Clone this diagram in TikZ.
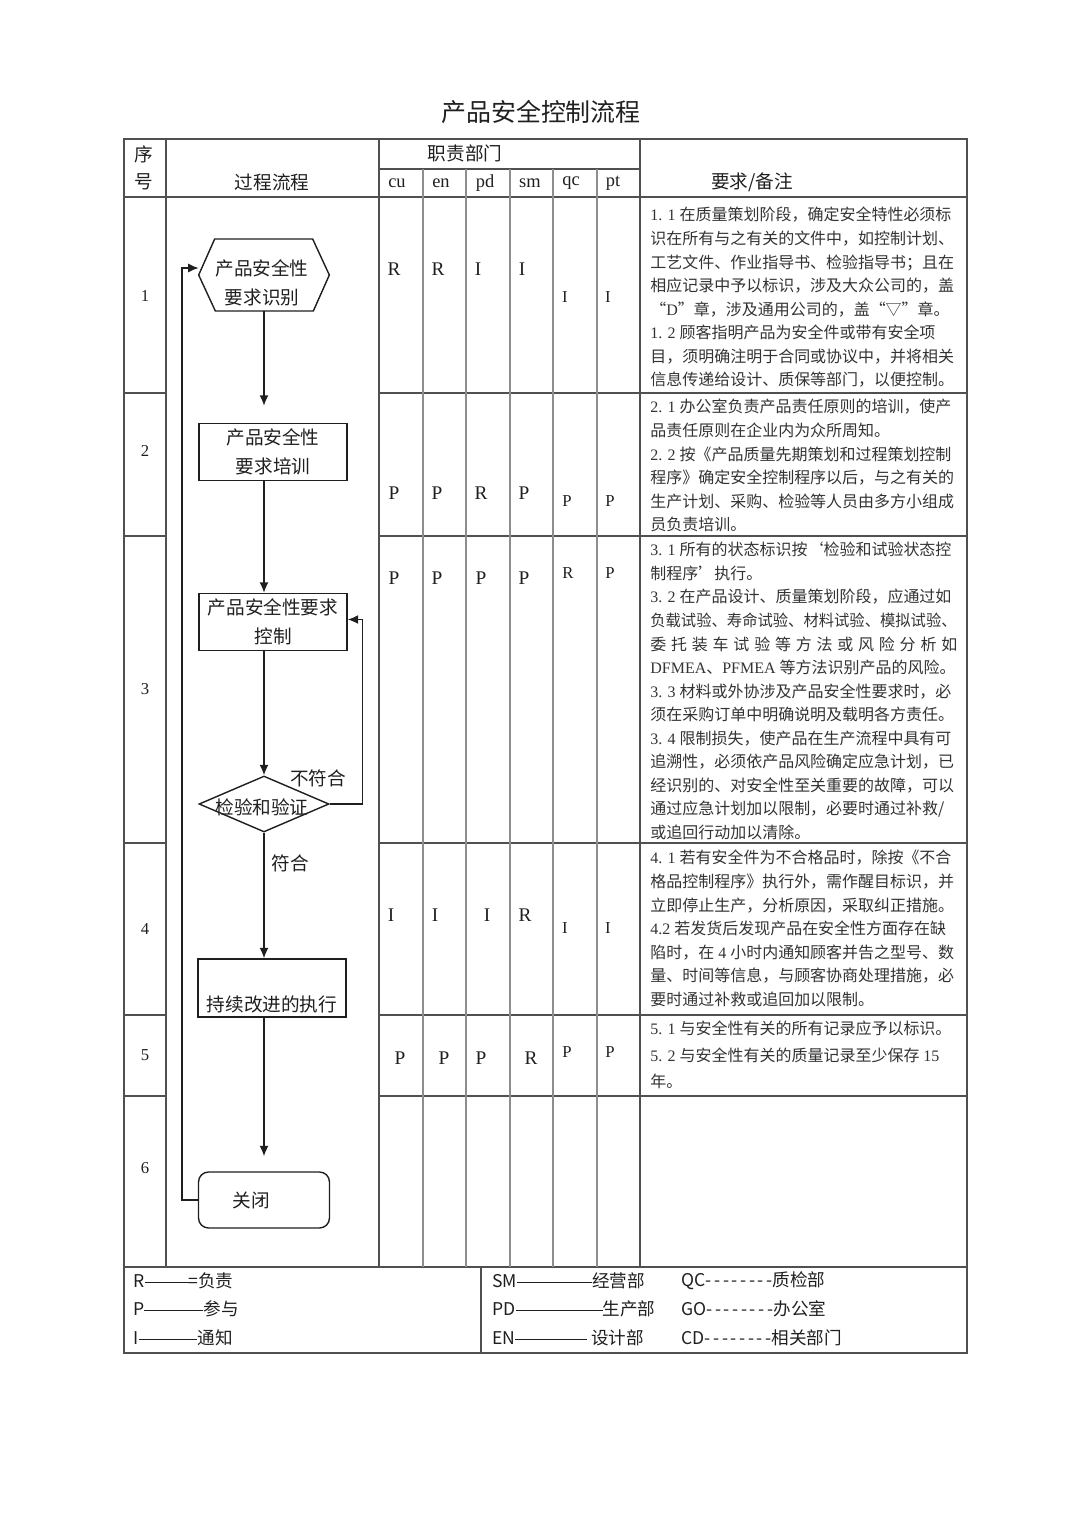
\documentclass[tikz,border=0pt]{standalone}
\usepackage{fontspec}
\usepackage{graphicx}
\setmainfont{Noto Sans CJK SC}
\newfontfamily\lat{Liberation Serif}
\usetikzlibrary{arrows.meta,positioning,shapes.geometric}
\definecolor{Trazo}{HTML}{505050}
\definecolor{TrazoClaro}{HTML}{8E8E8E}
\definecolor{Tinta}{HTML}{1F1F1F}
\definecolor{TintaGris}{HTML}{333333}
\newcommand{\fsz}[2]{\fontsize{#1}{#2}\selectfont}
\newcommand{\raya}[1]{\rule[0.3em]{#1}{0.05em}}
\newcommand{\guiones}{\makebox[1.34cm][s]{-\hfill-\hfill-\hfill-\hfill-\hfill-\hfill-\hfill-}}

\begin{document}
\begin{tikzpicture}[
  x=0.02cm,y=-0.02cm,
  >=Latex,
  every node/.style={inner sep=0pt,text=Tinta},
  rejilla/.style={draw=Trazo,line width=0.6pt},
  subrejilla/.style={draw=TrazoClaro,line width=0.6pt},
  cab/.style={font=\fsz{10.6}{13}},
  dpto/.style={font=\lat\fsz{10.5}{12}},
  letra/.style={font=\lat\fsz{11}{13}},
  letrita/.style={font=\lat\fsz{9.5}{11}},
  nota/.style={anchor=north west,align=left,text=TintaGris,font=\fsz{9.1}{13.4}},
  paso/.style={draw=Tinta,line width=0.8pt,minimum width=2.96cm,minimum height=1.14cm,align=center,font=\fsz{10.6}{16.5}},
  caja/.style={minimum width=2.6cm,minimum height=1.44cm},
  rombo/.style={diamond,draw=Tinta,line width=0.8pt,minimum width=2.6cm,minimum height=1.12cm},
  fin/.style={paso,rounded corners=0.2cm,minimum width=2.62cm,minimum height=1.12cm},
  flow/.style={-{Latex[length=2.1mm,width=1.8mm]},line width=0.8pt,draw=Tinta},
  etiq/.style={align=center,font=\fsz{10.6}{16.5}},
  leyenda/.style={anchor=west,font=\fsz{10}{12}}
]
\useasboundingbox (0,0) rectangle (1080,1527);

% Titulo
\node[font=\fsz{14.2}{17}] (titulo) at (541,112) {产品安全控制流程};

% Rejilla de la tabla
\draw[rejilla] (124,139) rectangle (967,1353);
\draw[rejilla] (124,197) -- (967,197);
\draw[rejilla] (379,169) -- (640,169);
\foreach \y in {393,536,843,1015,1096}{
  \draw[rejilla] (124,\y) -- (166,\y);
  \draw[rejilla] (379,\y) -- (967,\y);
}
\draw[rejilla] (124,1267) -- (967,1267);
\foreach \x in {166,379,640} \draw[rejilla] (\x,139) -- (\x,1267);
\foreach \x in {423,466,510,553,597} \draw[subrejilla] (\x,169) -- (\x,1267);
\draw[rejilla] (481,1267) -- (481,1353);

% Cabecera
\node[cab] (hseq) at (144,154) {序};
\node[cab] (hnum) at (144,182) {号};
\node[cab] (hproc) at (272,182) {过程流程};
\node[cab] (hdept) at (465,153) {职责部门};
\node[cab] (hreq) at (752,182) {要求/备注};
\foreach \x/\t in {397/cu,441/en,485/pd,530/sm,571/qc,613/pt}
  \node[dpto] (d\t) at (\x,183) {\t};

% Numeros de fila
\foreach \n/\y in {1/296,2/451,3/689,4/929,5/1055,6/1168}
  \node[font=\lat\fsz{9.5}{11}] (n\n) at (145,\y) {\n};

% Responsabilidades
\foreach \x/\y/\t [count=\k] in {394/269/R,438/269/R,478/269/I,522/269/I,
    394/493/P,437/493/P,481/493/R,524/493/P,
    394/578/P,437/578/P,481/578/P,524/578/P,
    391/915/I,435/915/I,487/915/I,525/915/R,
    400/1058/P,444/1058/P,481/1058/P,531/1058/R}
  \node[letra] (ra\k) at (\x,\y) {\t};
\foreach \x/\y/\t [count=\k] in {565/297/I,608/297/I,567/501/P,610/501/P,
    568/573/R,610/573/P,565/928/I,608/928/I,567/1052/P,610/1052/P}
  \node[letrita] (rb\k) at (\x,\y) {\t};

% Requisitos
\node[nota] (req1) at (650,207) {{\lat 1. 1 }在质量策划阶段，确定安全特性必须标\\
  识在所有与之有关的文件中，如控制计划、\\
  工艺文件、作业指导书、检验指导书；且在\\
  相应记录中予以标识，涉及大众公司的，盖\\
  “{\lat D}”章，涉及通用公司的，盖“▽”章。\\
  {\lat 1. 2 }顾客指明产品为安全件或带有安全项\\
  目，须明确注明于合同或协议中，并将相关\\
  信息传递给设计、质保等部门，以便控制。};
\node[nota] (req2) at (650,399) {{\lat 2. 1 }办公室负责产品责任原则的培训，使产\\
  品责任原则在企业内为众所周知。\\
  {\lat 2. 2 }按《产品质量先期策划和过程策划控制\\
  程序》确定安全控制程序以后，与之有关的\\
  生产计划、采购、检验等人员由多方小组成\\
  员负责培训。};
\node[nota] (req3) at (650,542) {{\lat 3. 1 }所有的状态标识按‘检验和试验状态控\\
  制程序’执行。\\
  {\lat 3. 2 }在产品设计、质量策划阶段，应通过如\\
  \scalebox{0.958}[1]{负载试验、寿命试验、材料试验、模拟试验、}\\
  \makebox[6.14cm][s]{委 托 装 车 试 验 等 方 法 或 风 险 分 析 如}\\
  {\lat DFMEA}、{\lat PFMEA }等方法识别产品的风险。\\
  {\lat 3. 3 }材料或外协涉及产品安全性要求时，必\\
  须在采购订单中明确说明及载明各方责任。\\
  {\lat 3. 4 }限制损失，使产品在生产流程中具有可\\
  追溯性，必须依产品风险确定应急计划，已\\
  经识别的、对安全性至关重要的故障，可以\\
  通过应急计划加以限制，必要时通过补救/\\
  或追回行动加以清除。};
\node[nota] (req4) at (650,850) {{\lat 4. 1 }若有安全件为不合格品时，除按《不合\\
  格品控制程序》执行外，需作醒目标识，并\\
  立即停止生产，分析原因，采取纠正措施。\\
  {\lat 4.2 }若发货后发现产品在安全性方面存在缺\\
  陷时，在{\lat\ 4 }小时内通知顾客并告之型号、数\\
  量、时间等信息，与顾客协商处理措施，必\\
  要时通过补救或追回加以限制。};
\node[nota,font=\fsz{9.1}{15}] (req5) at (650,1021) {{\lat 5. 1 }与安全性有关的所有记录应予以标识。\\
  {\lat 5. 2 }与安全性有关的质量记录至少保存{\lat\ 15}\\
  年。};

% Diagrama de flujo
\coordinate (eje) at (264,0);
\node[caja] (ident) at (264,275) {};
\draw[line width=0.8pt,draw=Tinta] (ident.west) -- ++(16,-36) -- ++(98,0)
  -- (ident.east) -- ++(-16,36) -- ++(-98,0) -- cycle;
\node[etiq] (identtxt) at (262,283) {产品安全性\\要求识别};
\node[paso] (train) at (273,452) {产品安全性\\要求培训};
\node[paso] (control) at (273,622) {产品安全性要求\\控制};
\node[rombo] (check) at (264,804) {};
\node[etiq] (checktxt) at (262,807) {检验和验证};
\node[paso,minimum height=1.16cm,font=\fsz{10.6}{27.3}] (improve) at (272,988) {\mbox{}\\持续改进的执行};
\node[fin] (close) at (264,1200) {关闭\hspace{0.5cm}};
\node[etiq] (nofit) at (318,778) {不符合};
\node[etiq] (fit) at (290,863) {符合};

\draw[flow,shorten >=0.34cm] (ident.south) -- (eje |- train.north);
\draw[flow] (eje |- train.south) -- (eje |- control.north);
\draw[flow] (eje |- control.south) -- (check.north);
\draw[flow] (check.east) -- ++(33,0) |- ([yshift=0.05cm]control.east);
\draw[flow] (check.south) -- (eje |- improve.north);
\draw[flow,shorten >=0.3cm] (eje |- improve.south) -- (close.north);
\draw[flow] (close.west) -- ++(-16,0) |- ([yshift=0.14cm]ident.west);

% Leyenda
\node[leyenda] (lgr) at (133,1281) {R\raya{0.88cm}=负责};
\node[leyenda] (lgp) at (133,1309) {P\raya{1.18cm}参与};
\node[leyenda] (lgi) at (133,1338) {I\raya{1.18cm}通知};
\node[leyenda] (lgsm) at (492,1281) {SM\raya{1.5cm}经营部};
\node[leyenda] (lgpd) at (492,1309) {PD\raya{1.74cm}生产部};
\node[leyenda] (lgen) at (492,1338) {EN\raya{1.44cm}\ 设计部};
\node[leyenda] (lgqc) at (681,1281) {QC\guiones 质检部};
\node[leyenda] (lggo) at (681,1309) {GO\guiones 办公室};
\node[leyenda] (lgcd) at (681,1338) {CD\guiones 相关部门};
\end{tikzpicture}
\end{document}
